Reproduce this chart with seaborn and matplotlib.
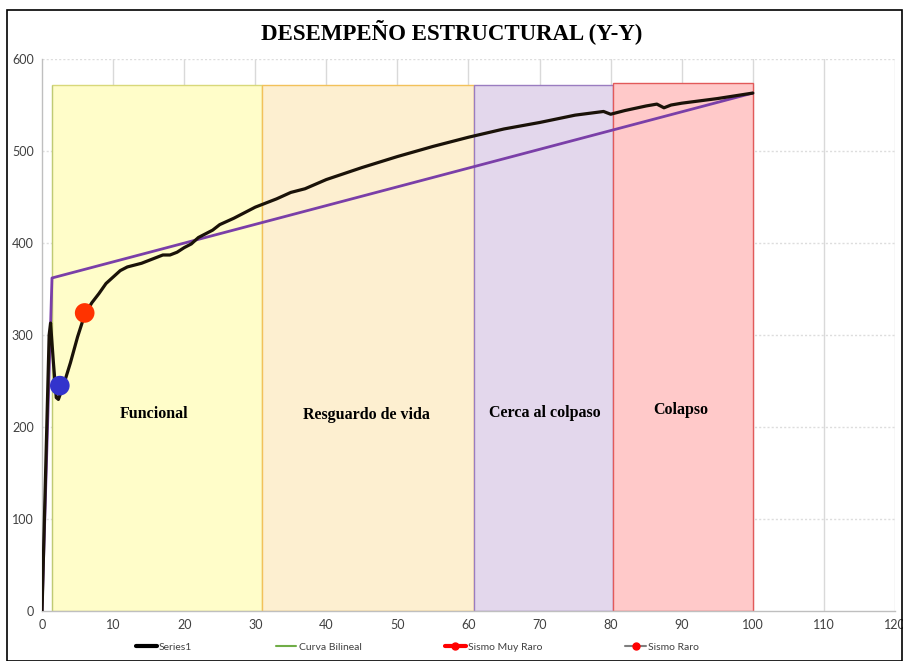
import matplotlib
matplotlib.use("Agg")
import matplotlib.pyplot as plt
import seaborn as sns
import pandas as pd
from matplotlib.lines import Line2D
from matplotlib.patches import Rectangle

# ---- data ----
curve_x = [0, 0.5, 1.0, 1.2, 1.6, 2.0, 2.3, 3, 4, 5, 6, 7, 8, 9, 10, 11, 12, 14, 16, 17, 18,
           19, 20, 21, 22, 24, 25, 27, 30, 33, 35, 37, 40, 45, 50, 55, 58, 60, 65, 70, 75,
           78, 79, 80, 82, 85, 86.5, 87.5, 88.5, 90, 95, 100]
curve_y = [0, 150, 300, 313, 270, 232, 230, 245, 270, 298, 322, 335, 345, 356, 363, 370, 374,
           378, 384, 387, 387, 390, 395, 399, 406, 414, 420, 427, 439, 448, 455, 459, 469, 482,
           494, 505, 511, 515, 524, 531, 539, 542, 543, 540, 544, 549, 551, 547, 550, 552, 557, 563]
bilin_x = [0, 1.4, 100]
bilin_y = [0, 362, 563]
green_x = [1.4, 1.4]
green_y = [0, 572]
muy_raro = (6.0, 324)
raro = (2.5, 245)
zones = ["Funcional", "Resguardo de vida", "Cerca al colpaso", "Colapso"]
zone_start = [1.4, 31.0, 60.8, 80.3]
zone_end = [31.0, 60.8, 80.3, 100.0]
zone_top = [572, 572, 572, 574]
label_x = [15.8, 45.7, 70.8, 89.8]
label_y = [214, 213, 215, 218]
title = "DESEMPEÑO ESTRUCTURAL (Y-Y)"

zone_face = ["#FFFDC9", "#FDEFD0", "#E3D7EC", "#FFC9C9"]
zone_edge = ["#D8D87A", "#F2C15A", "#9A7CC0", "#E25A5A"]

sns.set_style("white")
tick_font = ["Lato", "DejaVu Sans"]

fig = plt.figure(figsize=(9.04, 6.61), dpi=100)
ax = fig.add_axes([0.0465, 0.0756, 0.9435, 0.8351])

ax.set_xlim(0, 120)
ax.set_ylim(0, 600)
ax.set_xticks(range(0, 121, 10))
ax.set_yticks(range(0, 601, 100))
for v in range(10, 121, 10):
    ax.axvline(v, color="#D9D9D9", lw=1.0, zorder=0)
for v in range(100, 601, 100):
    ax.axhline(v, color="#DDDDDD", lw=1.0, ls=(0, (1.5, 1.5)), zorder=0)

for s, e, t, fc, ec in zip(zone_start, zone_end, zone_top, zone_face, zone_edge):
    ax.add_patch(Rectangle((s, 0), e - s, t, facecolor=fc, edgecolor=ec, lw=1.0, zorder=1))

for name, lx, ly in zip(zones, label_x, label_y):
    ax.text(lx, ly, name, ha="center", va="center", fontsize=11.5, fontweight="bold",
            family="Liberation Serif", color="black", zorder=5)

sns.lineplot(x=green_x, y=green_y, color="#5E9B5E", lw=1.3, ax=ax, zorder=2)
sns.lineplot(data=pd.DataFrame({"x": bilin_x, "y": bilin_y}), x="x", y="y",
             color="#7A3FA8", lw=2.0, ax=ax, zorder=3, sort=False)
sns.lineplot(data=pd.DataFrame({"x": curve_x, "y": curve_y}), x="x", y="y",
             color="#1A1208", lw=2.3, ax=ax, zorder=4, sort=False)
sns.scatterplot(x=[muy_raro[0]], y=[muy_raro[1]], color="#FF3300", s=200, ax=ax,
                zorder=6, edgecolor="none")
sns.scatterplot(x=[raro[0]], y=[raro[1]], color="#3333CC", s=200, ax=ax,
                zorder=6, edgecolor="none")

ax.set_xlabel("")
ax.set_ylabel("")
for sp in ["top", "right"]:
    ax.spines[sp].set_visible(False)
for sp in ["left", "bottom"]:
    ax.spines[sp].set_color("#BFBFBF")
    ax.spines[sp].set_linewidth(1.0)
ax.tick_params(axis="both", length=0, labelsize=9, colors="#404040", pad=6)
for lab in ax.get_xticklabels() + ax.get_yticklabels():
    lab.set_family(tick_font)

fig.text(0.5, 0.952, title, ha="center", va="center", fontsize=16.5, fontweight="bold",
         family="Liberation Serif", color="black")

handles = [
    Line2D([], [], color="black", lw=3),
    Line2D([], [], color="#70AD47", lw=1.5),
    Line2D([], [], color="#FF0000", lw=3, marker="o", markersize=5),
    Line2D([], [], color="#7F7F7F", lw=1.5, marker="o", markersize=5,
           markerfacecolor="#FF0000", markeredgecolor="#FF0000"),
]
labels = ["Series1", "Curva Bilineal", "Sismo Muy Raro", "Sismo Raro"]
leg = fig.legend(handles, labels, loc="center", bbox_to_anchor=(0.462, 0.021), ncol=4,
                 frameon=False, handlelength=2.0, handletextpad=0.2,
                 columnspacing=8.0, prop={"family": tick_font, "size": 7.5})
for t in leg.get_texts():
    t.set_color("#404040")

fig.add_artist(Rectangle((0.008, 0.0), 0.990, 0.985, transform=fig.transFigure,
                         fill=False, edgecolor="black", lw=1.2))

fig.savefig("out.png", dpi=100)
